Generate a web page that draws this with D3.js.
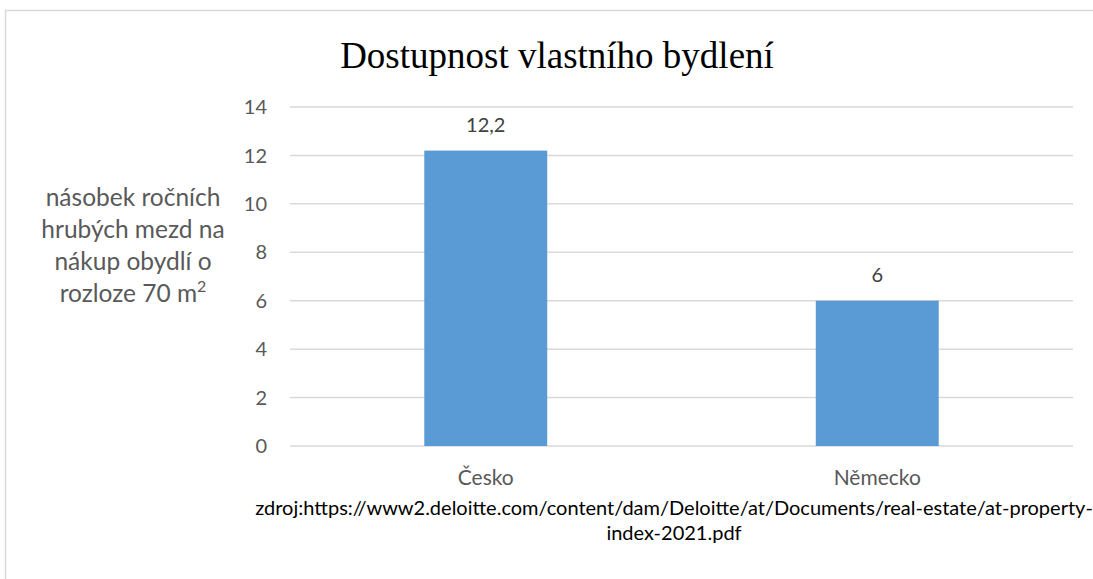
<!DOCTYPE html>
<html><head><meta charset="utf-8">
<script src="https://cdn.jsdelivr.net/npm/d3@7"></script>
<style>body{margin:0;background:#fff;}svg{display:block;}</style>
</head><body>
<script>
const categories = ["Česko", "Německo"];
const values = [12.2, 6];
const valueLabels = ["12,2", "6"];
const yTicks = [0, 2, 4, 6, 8, 10, 12, 14];
const title = "Dostupnost vlastního bydlení";
const yLabelLines = ["násobek ročních", "hrubých mezd na", "nákup obydlí o", "rozloze 70 m²"];
const sourceLines = ["zdroj:https://www2.deloitte.com/content/dam/Deloitte/at/Documents/real-estate/at-property-", "index-2021.pdf"];

const W = 1093, H = 579;
const svg = d3.select("body").append("svg").attr("width", W).attr("height", H);
const font = "Lato, 'Open Sans', sans-serif";

// chart frame
svg.append("path").attr("d", `M5.5,${H} V10.5 H${W}`).attr("fill","none").attr("stroke","#d9d9d9").attr("stroke-width",1.5);

const x = d3.scaleBand().domain(categories).range([290, 1073]);
const y = d3.scaleLinear().domain([0, 14]).range([446, 107]);
const barW = x.bandwidth() * 0.314;

// gridlines
svg.append("g").selectAll("line").data(yTicks).join("line")
  .attr("x1", 290).attr("x2", 1073)
  .attr("y1", d => y(d)).attr("y2", d => y(d))
  .attr("stroke", "#d9d9d9").attr("stroke-width", 1.5);

// y tick labels
svg.append("g").selectAll("text").data(yTicks).join("text")
  .attr("x", 267).attr("y", d => y(d)).attr("dy", "0.36em")
  .attr("text-anchor", "end").attr("font-family", font).attr("font-size", 20).attr("fill", "#595959")
  .text(d => d);

// bars
svg.append("g").selectAll("rect").data(values).join("rect")
  .attr("x", (d,i) => x(categories[i]) + x.bandwidth()/2 - barW/2)
  .attr("width", barW)
  .attr("y", d => y(d)).attr("height", d => y(0) - y(d))
  .attr("fill", "#5b9bd5");

// value labels
svg.append("g").selectAll("text").data(values).join("text")
  .attr("x", (d,i) => x(categories[i]) + x.bandwidth()/2)
  .attr("y", d => y(d) - 19)
  .attr("text-anchor", "middle").attr("font-family", font).attr("font-size", 20).attr("fill", "#404040")
  .text((d,i) => valueLabels[i]);

// category labels
svg.append("g").selectAll("text").data(categories).join("text")
  .attr("x", d => x(d) + x.bandwidth()/2).attr("y", 485)
  .attr("text-anchor", "middle").attr("font-family", font).attr("font-size", 21).attr("fill", "#595959")
  .text(d => d);

// title
svg.append("text").attr("x", 557).attr("y", 68).attr("text-anchor", "middle")
  .attr("font-family", "'Liberation Serif', 'DejaVu Serif', serif").attr("font-size", 37).attr("fill", "#000")
  .text(title);

// y label (superscript rendered as a raised tspan)
svg.append("g").selectAll("text").data(yLabelLines).join("text")
  .attr("x", 133).attr("y", (d,i) => 206 + i*32)
  .attr("text-anchor", "middle").attr("font-family", font).attr("font-size", 24.5).attr("fill", "#595959")
  .each(function(d) {
    const t = d3.select(this);
    const parts = d.split("²");
    t.append("tspan").text(parts[0]);
    if (parts.length > 1) {
      t.append("tspan").attr("font-size", 16).attr("dy", -10).text("2");
    }
  });

// source
svg.append("g").selectAll("text").data(sourceLines).join("text")
  .attr("x", 674).attr("y", (d,i) => 515 + i*25)
  .attr("text-anchor", "middle").attr("font-family", font).attr("font-size", 20).attr("fill", "#000")
  .text(d => d);
</script>
</body></html>
